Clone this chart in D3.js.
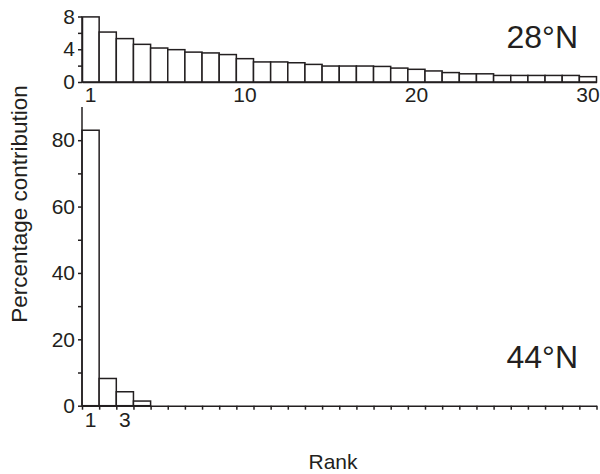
<!DOCTYPE html>
<html>
<head>
<meta charset="utf-8">
<script src="https://cdn.jsdelivr.net/npm/d3@7"></script>
<style>
  html, body { margin: 0; padding: 0; background: #fff; }
  svg { display: block; font-family: "Liberation Sans", Arial, Helvetica, sans-serif; }
  .axis path, .axis line { stroke: #231f20; stroke-width: 1.5px; }
  .axis text { fill: #231f20; font-size: 21px; }
</style>
</head>
<body>
<svg id="chart" width="600" height="474"></svg>
<script>
// Rank positions 1..30
const ranks = d3.range(1, 31);

// Percentage contribution by rank, 28°N
const values28N = [7.95, 6.1, 5.3, 4.6, 4.15, 3.95, 3.65, 3.55, 3.35, 2.85,
                   2.45, 2.45, 2.35, 2.15, 1.95, 1.95, 1.95, 1.9, 1.7, 1.55,
                   1.35, 1.15, 1.0, 1.0, 0.8, 0.8, 0.8, 0.8, 0.8, 0.65];

// Percentage contribution by rank, 44°N (ranks beyond 4 are zero)
const values44N = [83, 8.2, 4.2, 1.4];

// Tick labels
const topRankLabels = [1, 10, 20, 30];
const bottomRankLabels = [1, 3];
const topYTicks = [0, 2, 4, 6, 8];
const topYLabels = [0, 4, 8];
const bottomYTicks = [0, 10, 20, 30, 40, 50, 60, 70, 80];
const bottomYLabels = [0, 20, 40, 60, 80];

const panelLabels = ["28°N", "44°N"];

const svg = d3.select("#chart");
const ink = "#231f20";

const x = d3.scaleBand().domain(ranks).range([82, 596.5]).padding(0);
// continuous view of the same rank axis, used for bin-edge ticks
const xEdge = d3.scaleLinear().domain([0.5, 30.5]).range([82, 596.5]);

const yTop = d3.scaleLinear().domain([0, 8]).range([82, 16.5]);
const yBot = d3.scaleLinear().domain([0, 90]).range([405.7, 107]);

function yAxis(g, scale, ticks, labels) {
  g.attr("class", "axis")
    .call(d3.axisLeft(scale).tickValues(ticks).tickSize(4).tickPadding(3)
      .tickFormat(d => labels.includes(d) ? d : "").tickSizeOuter(0));
}

// ---- upper panel (28°N) ----
const upper = svg.append("g");
upper.selectAll("rect")
  .data(values28N)
  .join("rect")
  .attr("x", (d, i) => x(ranks[i]))
  .attr("width", x.bandwidth())
  .attr("y", d => yTop(d))
  .attr("height", d => yTop(0) - yTop(d))
  .attr("fill", "#fff")
  .attr("stroke", ink)
  .attr("stroke-width", 1.5);

upper.append("g")
  .attr("transform", `translate(0,${yTop(0)})`)
  .attr("class", "axis")
  .call(d3.axisBottom(x).tickValues(topRankLabels).tickSize(0).tickPadding(5).tickSizeOuter(0));

upper.append("g")
  .attr("transform", "translate(82,0)")
  .call(yAxis, yTop, topYTicks, topYLabels);

upper.append("text")
  .attr("x", 578).attr("y", 48)
  .attr("text-anchor", "end")
  .attr("font-size", 32)
  .attr("fill", ink)
  .text(panelLabels[0]);

// ---- lower panel (44°N) ----
const lower = svg.append("g");
lower.selectAll("rect")
  .data(values44N)
  .join("rect")
  .attr("x", (d, i) => x(ranks[i]))
  .attr("width", x.bandwidth())
  .attr("y", d => yBot(d))
  .attr("height", d => yBot(0) - yBot(d))
  .attr("fill", "#fff")
  .attr("stroke", ink)
  .attr("stroke-width", 1.5);

// bin-edge tick marks
lower.append("g")
  .attr("transform", `translate(0,${yBot(0)})`)
  .attr("class", "axis")
  .call(d3.axisBottom(xEdge).tickValues(d3.range(0.5, 31, 1)).tickSize(4)
    .tickFormat("").tickSizeOuter(0));

// rank labels at bar centres
lower.append("g")
  .attr("transform", `translate(0,${yBot(0)})`)
  .attr("class", "axis")
  .call(d3.axisBottom(x).tickValues(bottomRankLabels).tickSize(0).tickPadding(6))
  .call(g => g.select(".domain").remove());

lower.append("g")
  .attr("transform", "translate(82,0)")
  .call(yAxis, yBot, bottomYTicks, bottomYLabels)
  .call(g => g.select(".domain").attr("d", `M0,${yBot(90)}V${yBot(0)}`));

lower.append("text")
  .attr("x", 578).attr("y", 368)
  .attr("text-anchor", "end")
  .attr("font-size", 32)
  .attr("fill", ink)
  .text(panelLabels[1]);

// ---- axis titles ----
svg.append("text")
  .attr("x", 333).attr("y", 469)
  .attr("text-anchor", "middle")
  .attr("font-size", 21)
  .attr("fill", ink)
  .text("Rank");

svg.append("text")
  .attr("transform", "translate(27,204) rotate(-90)")
  .attr("text-anchor", "middle")
  .attr("font-size", 22.5)
  .attr("fill", ink)
  .text("Percentage contribution");
</script>
</body>
</html>
